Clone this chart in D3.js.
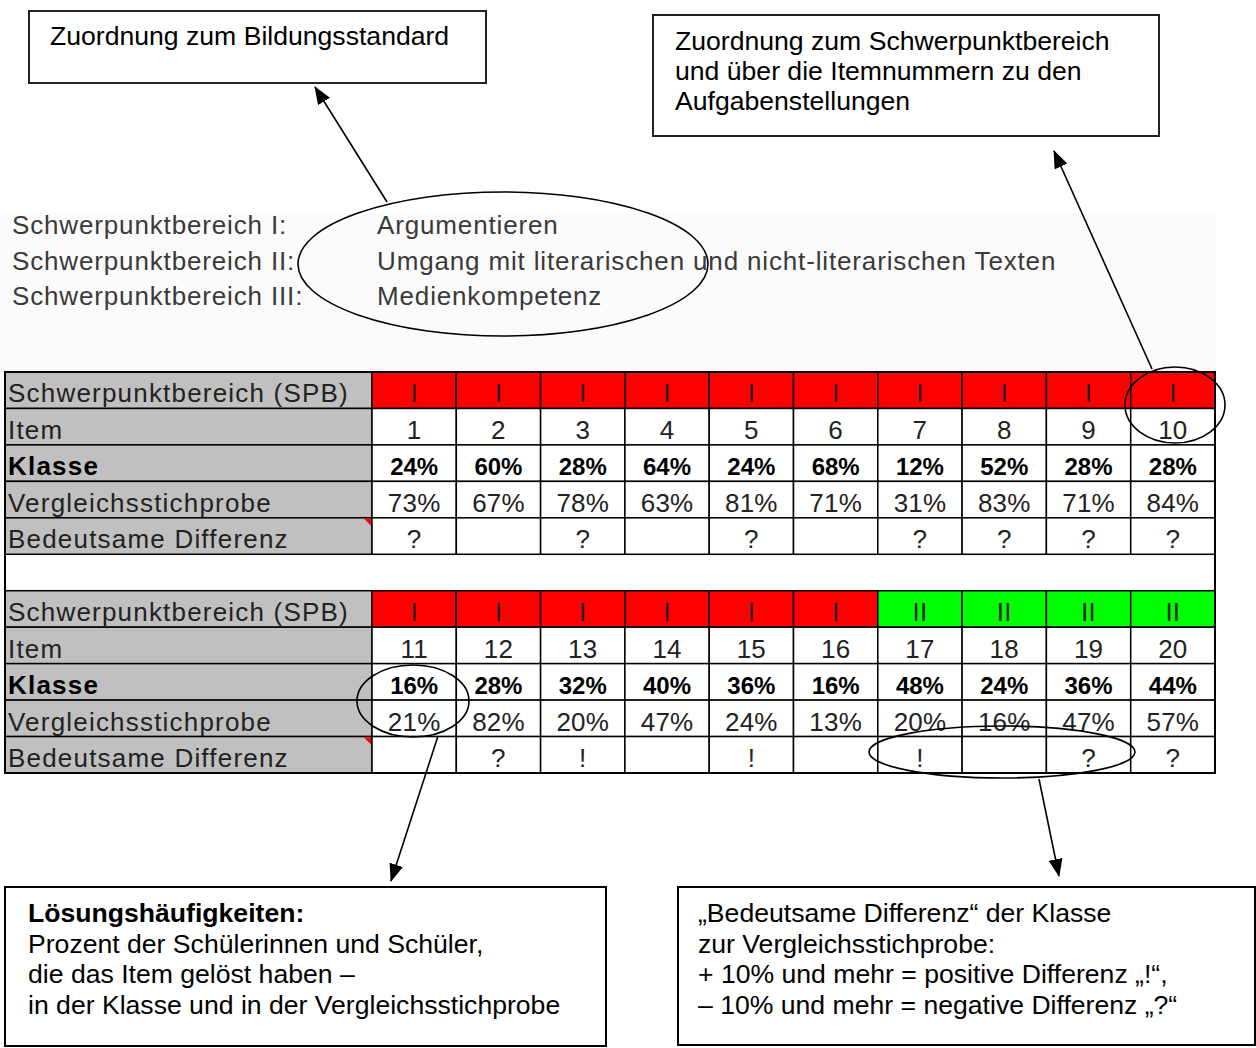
<!DOCTYPE html>
<html>
<head>
<meta charset="utf-8">
<script src="https://cdn.jsdelivr.net/npm/d3@7"></script>
<style>
  body { margin: 0; background: #fff; }
  svg { display: block; }
</style>
</head>
<body>
<div id="chart"></div>
<script>
// ---- data ----
var spbNumbers = ["Schwerpunktbereich I:", "Schwerpunktbereich II:", "Schwerpunktbereich III:"];
var spbNames = ["Argumentieren", "Umgang mit literarischen und nicht-literarischen Texten", "Medienkompetenz"];

var rowLabels = ["Schwerpunktbereich (SPB)", "Item", "Klasse", "Vergleichsstichprobe", "Bedeutsame Differenz"];

// items 1-10
var spbTop = ["I", "I", "I", "I", "I", "I", "I", "I", "I", "I"];
var itemsTop = [1, 2, 3, 4, 5, 6, 7, 8, 9, 10];
var klasseTop = [24, 60, 28, 64, 24, 68, 12, 52, 28, 28];
var vergleichTop = [73, 67, 78, 63, 81, 71, 31, 83, 71, 84];
var diffTop = ["?", "", "?", "", "?", "", "?", "?", "?", "?"];

// items 11-20
var spbBottom = ["I", "I", "I", "I", "I", "I", "II", "II", "II", "II"];
var itemsBottom = [11, 12, 13, 14, 15, 16, 17, 18, 19, 20];
var klasseBottom = [16, 28, 32, 40, 36, 16, 48, 24, 36, 44];
var vergleichBottom = [21, 82, 20, 47, 24, 13, 20, 16, 47, 57];
var diffBottom = ["", "?", "!", "", "!", "", "!", "", "?", "?"];

var spbColors = { "I": "#ff0000", "II": "#00ff00" };

var noteTopLeft = ["Zuordnung zum Bildungsstandard"];
var noteTopRight = ["Zuordnung zum Schwerpunktbereich", "und über die Itemnummern zu den", "Aufgabenstellungen"];
var noteBottomLeft = ["Lösungshäufigkeiten:", "Prozent der Schülerinnen und Schüler,", "die das Item gelöst haben –", "in der Klasse und in der Vergleichsstichprobe"];
var noteBottomRight = ["„Bedeutsame Differenz“ der Klasse", "zur Vergleichsstichprobe:", "+ 10% und mehr = positive Differenz „!“,", "– 10% und mehr = negative Differenz „?“"];

// ---- drawing ----
var width = 1256, height = 1048;
var svg = d3.select("#chart").append("svg")
  .attr("width", width)
  .attr("height", height);

var font = "'Liberation Sans', Arial, sans-serif";

var defs = svg.append("defs");
defs.append("marker")
  .attr("id", "arrow")
  .attr("markerUnits", "userSpaceOnUse")
  .attr("viewBox", "0 0 18 14")
  .attr("markerWidth", 18)
  .attr("markerHeight", 14)
  .attr("refX", 17)
  .attr("refY", 7)
  .attr("orient", "auto")
  .append("path")
  .attr("d", "M0,0 L18,7 L0,14 Z")
  .attr("fill", "#000");

// light backdrop behind the SPB list (pasted screenshot)
svg.append("rect")
  .attr("x", 0).attr("y", 213)
  .attr("width", 1215).attr("height", 158)
  .attr("fill", "#fbfbfb");

// SPB list
var listY = d3.scalePoint().domain(d3.range(3)).range([234, 305]);
var list = svg.append("g")
  .attr("font-family", font)
  .attr("font-size", 26)
  .attr("letter-spacing", 0.85)
  .attr("fill", "#3a3a3a");
list.selectAll("text.num").data(spbNumbers).enter().append("text")
  .attr("class", "num")
  .attr("x", 12)
  .attr("y", function(d, i) { return listY(i); })
  .text(function(d) { return d; });
list.selectAll("text.name").data(spbNames).enter().append("text")
  .attr("class", "name")
  .attr("x", 377)
  .attr("y", function(d, i) { return listY(i); })
  .text(function(d) { return d; });

// table
var labelX0 = 5, labelX1 = 372, tableRight = 1215;
var x = d3.scaleBand().domain(d3.range(10)).range([labelX1, tableRight]);
var y = d3.scaleBand().domain(d3.range(11)).range([372, 773]);

var blocks = [
  { start: 0, spb: spbTop, items: itemsTop, klasse: klasseTop, vergleich: vergleichTop, diff: diffTop },
  { start: 6, spb: spbBottom, items: itemsBottom, klasse: klasseBottom, vergleich: vergleichBottom, diff: diffBottom }
];

var table = svg.append("g").attr("font-family", font);

// blank spacer row
table.append("rect")
  .attr("x", labelX0).attr("y", y(5))
  .attr("width", tableRight - labelX0).attr("height", y.bandwidth())
  .attr("fill", "#fff").attr("stroke", "#000").attr("stroke-width", 1.5);

blocks.forEach(function(b) {
  var g = table.append("g");
  var rows = [
    b.spb,
    b.items.map(String),
    b.klasse.map(function(v) { return v + "%"; }),
    b.vergleich.map(function(v) { return v + "%"; }),
    b.diff
  ];

  rows.forEach(function(vals, r) {
    var ry = y(b.start + r);
    var rowG = g.append("g");

    // label cell
    rowG.append("rect")
      .attr("x", labelX0).attr("y", ry)
      .attr("width", labelX1 - labelX0).attr("height", y.bandwidth())
      .attr("fill", "#c0c0c0").attr("stroke", "#000").attr("stroke-width", 1.5);
    rowG.append("text")
      .attr("x", labelX0 + 3)
      .attr("y", ry + y.bandwidth() - 6)
      .attr("font-size", 26)
      .attr("letter-spacing", r === 2 ? 1.2 : 1.2)
      .attr("font-weight", r === 2 ? "bold" : "normal")
      .attr("fill", r === 2 ? "#000" : "#222")
      .text(rowLabels[r]);

    // value cells
    rowG.selectAll("rect.cell").data(vals).enter().append("rect")
      .attr("class", "cell")
      .attr("x", function(d, i) { return x(i); })
      .attr("y", ry)
      .attr("width", x.bandwidth())
      .attr("height", y.bandwidth())
      .attr("fill", function(d) { return r === 0 ? spbColors[d] : "#fff"; })
      .attr("stroke", "#000").attr("stroke-width", 1.5);
    rowG.selectAll("text.val").data(vals).enter().append("text")
      .attr("class", "val")
      .attr("x", function(d, i) { return x(i) + x.bandwidth() / 2; })
      .attr("y", ry + y.bandwidth() - 6)
      .attr("text-anchor", "middle")
      .attr("font-size", r === 2 ? 24 : 26)
      .attr("letter-spacing", r === 2 ? 0 : 0.2)
      .attr("font-weight", r === 2 ? "bold" : "normal")
      .attr("fill", r === 2 ? "#000" : "#222")
      .text(function(d) { return d; });

    // comment marker on the "Bedeutsame Differenz" label
    if (r === 4) {
      rowG.append("path")
        .attr("d", "M" + (labelX1 - 8) + "," + (ry + 1) + " L" + (labelX1 - 1) + "," + (ry + 1) + " L" + (labelX1 - 1) + "," + (ry + 8) + " Z")
        .attr("fill", "#ff0000");
    }
  });
});

// outer frame of the table
table.append("rect")
  .attr("x", labelX0).attr("y", y(0))
  .attr("width", tableRight - labelX0).attr("height", y(10) + y.bandwidth() - y(0))
  .attr("fill", "none").attr("stroke", "#000").attr("stroke-width", 2);

// ---- annotation boxes ----
var boxes = [
  { x: 29, y: 11, w: 457, h: 72, tx: 50, ty: 45, lh: 30, lines: noteTopLeft, stroke: "#222" },
  { x: 653, y: 15, w: 506, h: 121, tx: 675, ty: 50, lh: 30, lines: noteTopRight, stroke: "#222" },
  { x: 5, y: 887, w: 601, h: 159, tx: 28, ty: 922, lh: 30.5, lines: noteBottomLeft, stroke: "#000", boldFirst: true },
  { x: 678, y: 887, w: 577, h: 158, tx: 698, ty: 922, lh: 30.5, lines: noteBottomRight, stroke: "#000" }
];

var notes = svg.append("g").attr("font-family", font).attr("font-size", 26.6);
boxes.forEach(function(b) {
  notes.append("rect")
    .attr("x", b.x).attr("y", b.y)
    .attr("width", b.w).attr("height", b.h)
    .attr("fill", "#fff").attr("stroke", b.stroke).attr("stroke-width", 2);
  notes.selectAll(null).data(b.lines).enter().append("text")
    .attr("x", b.tx)
    .attr("y", function(d, i) { return b.ty + i * b.lh; })
    .attr("font-weight", function(d, i) { return b.boldFirst && i === 0 ? "bold" : "normal"; })
    .attr("fill", "#000")
    .text(function(d) { return d; });
});

// ---- ellipses and arrows ----
var ellipses = [
  { cx: 503, cy: 264, rx: 205, ry: 72 },
  { cx: 1175, cy: 405, rx: 50, ry: 38 },
  { cx: 413, cy: 701, rx: 56, ry: 36 },
  { cx: 1002, cy: 752, rx: 133, ry: 26 }
];
svg.append("g").selectAll("ellipse").data(ellipses).enter().append("ellipse")
  .attr("cx", function(d) { return d.cx; })
  .attr("cy", function(d) { return d.cy; })
  .attr("rx", function(d) { return d.rx; })
  .attr("ry", function(d) { return d.ry; })
  .attr("fill", "none")
  .attr("stroke", "#000")
  .attr("stroke-width", 1.6);

var arrows = [
  { x1: 387, y1: 202, x2: 315, y2: 87 },
  { x1: 1152, y1: 369, x2: 1054, y2: 151 },
  { x1: 438, y1: 736, x2: 391, y2: 881 },
  { x1: 1039, y1: 779, x2: 1059, y2: 876 }
];
svg.append("g").selectAll("line").data(arrows).enter().append("line")
  .attr("x1", function(d) { return d.x1; })
  .attr("y1", function(d) { return d.y1; })
  .attr("x2", function(d) { return d.x2; })
  .attr("y2", function(d) { return d.y2; })
  .attr("stroke", "#000")
  .attr("stroke-width", 1.6)
  .attr("marker-end", "url(#arrow)");
</script>
</body>
</html>
